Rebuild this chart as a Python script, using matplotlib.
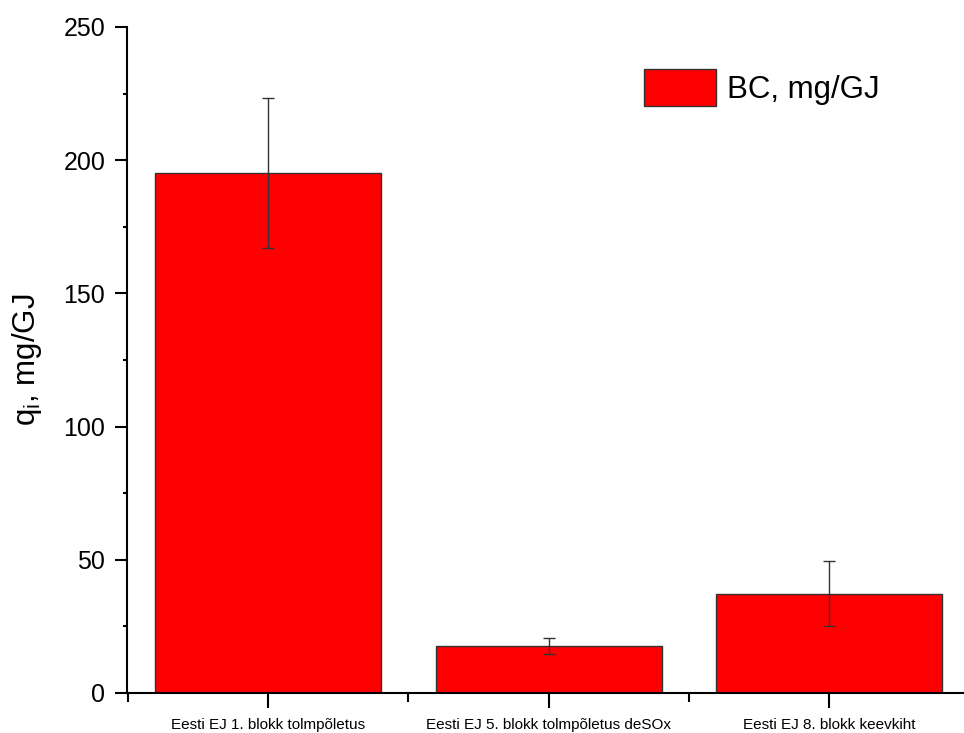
import matplotlib
matplotlib.use("Agg")
import matplotlib.pyplot as plt
from matplotlib.ticker import MultipleLocator, FixedLocator

categories = ["Eesti EJ 1. blokk tolmpõletus", "Eesti EJ 5. blokk tolmpõletus deSOx", "Eesti EJ 8. blokk keevkiht"]
values = [195.2, 17.7, 37.3]
errors = [28.3, 3.0, 12.1]
series_label = "BC, mg/GJ"

plt.rcParams['font.family'] = ['Liberation Sans', 'DejaVu Sans']

fig = plt.figure(figsize=(9.64, 7.33), dpi=100)
ax = fig.add_axes([127/964, 1-693/733, 1-127/964, (693-27)/733])

x = [1, 2, 3]
ax.bar(x, values, width=0.806, color='#ff0000', edgecolor='#333333', linewidth=1,
       yerr=errors, error_kw=dict(ecolor='#333333', elinewidth=1, capsize=4.5, capthick=1),
       label=series_label)

ax.set_xlim(0.497, 3.481)
ax.set_ylim(0, 250)
ax.set_xticks(x)
ax.set_xticklabels(categories, fontsize=11)
ax.xaxis.set_minor_locator(FixedLocator([0.5, 1.5, 2.5, 3.5]))
ax.yaxis.set_major_locator(MultipleLocator(50))
ax.yaxis.set_minor_locator(MultipleLocator(25))
ax.tick_params(axis='y', which='major', length=8.6, width=1.5, labelsize=18, direction='out', pad=7)
ax.tick_params(axis='y', which='minor', length=3, width=1.5, direction='out')
ax.tick_params(axis='x', which='major', length=10.8, width=1.5, direction='out', pad=7)
ax.tick_params(axis='x', which='minor', length=6.5, width=1.5, direction='out')

for s in ['top', 'right']:
    ax.spines[s].set_visible(False)
for s in ['left', 'bottom']:
    ax.spines[s].set_linewidth(1.5)

ax.set_ylabel(r"q$_\mathregular{i}$, mg/GJ", fontsize=22.5, labelpad=14)

leg = ax.legend(loc='upper left', bbox_to_anchor=(0.603, 0.955), frameon=False, fontsize=22.5,
                handlelength=2.3, handleheight=1.4, handletextpad=0.35, borderaxespad=0)
for p in leg.get_patches():
    p.set_edgecolor('#333333')

fig.savefig("out.png", dpi=100)
